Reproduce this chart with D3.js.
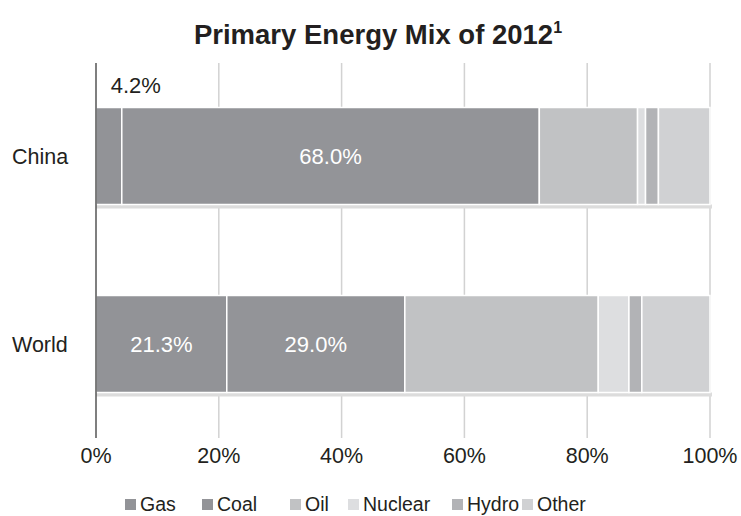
<!DOCTYPE html>
<html>
<head>
<meta charset="utf-8">
<script src="https://cdn.jsdelivr.net/npm/d3@7"></script>
<style>
  body { margin: 0; background: #fff; }
  svg { font-family: "Liberation Sans", Arial, sans-serif; }
</style>
</head>
<body>
<svg id="chart" width="741" height="516"></svg>
<script>
// data (percent of primary energy)
var regions = ["China", "World"];
var sources = ["Gas", "Coal", "Oil", "Nuclear", "Hydro", "Other"];
var chinaShares = [4.2, 68.0, 16.0, 1.3, 2.1, 8.4];
var worldShares = [21.3, 29.0, 31.5, 5.0, 2.1, 11.1];
var xTicks = [0, 20, 40, 60, 80, 100];
var colors = ["#929397", "#939498", "#c1c2c4", "#dddee0", "#b2b3b6", "#d0d1d3"];

var shares = { China: chinaShares, World: worldShares };

var svg = d3.select("#chart");

var x = d3.scaleLinear().domain([0, 100]).range([96, 710]);
var y = d3.scaleBand().domain(regions).range([62, 438])
    .paddingInner(0.484).paddingOuter(0.242);
var color = d3.scaleOrdinal().domain(sources).range(colors);

// title
var title = svg.append("text")
    .attr("x", 378).attr("y", 44)
    .attr("text-anchor", "middle")
    .style("font-size", "27.5px").style("font-weight", "bold").style("fill", "#231f20")
    .text("Primary Energy Mix of 2012");
title.append("tspan")
    .attr("dy", -11).style("font-size", "16px")
    .text("1");

// gridlines
svg.append("g").selectAll("line")
    .data(xTicks.slice(1))
    .enter().append("line")
    .attr("x1", function(d) { return x(d); })
    .attr("x2", function(d) { return x(d); })
    .attr("y1", 63).attr("y2", 438)
    .style("stroke", "#d2d2d2").style("stroke-width", 1.5);

// stacked rows
var rows = svg.append("g").selectAll("g")
    .data(regions)
    .enter().append("g");

rows.append("rect")
    .attr("x", x(0))
    .attr("y", function(d) { return y(d) + y.bandwidth(); })
    .attr("width", x(100) - x(0) + 2)
    .attr("height", 4)
    .style("fill", "#dcdcdc");

rows.each(function(r) {
    var vals = shares[r];
    var acc = 0;
    var segs = vals.map(function(v, i) {
        var s = { region: r, source: sources[i], v: v, x0: acc, x1: acc + v };
        acc += v;
        return s;
    });
    var g = d3.select(this);
    g.selectAll("rect.seg")
        .data(segs)
        .enter().append("rect")
        .attr("class", "seg")
        .attr("x", function(d) { return x(d.x0); })
        .attr("y", y(r))
        .attr("width", function(d) { return x(d.x1) - x(d.x0); })
        .attr("height", y.bandwidth())
        .style("fill", function(d) { return color(d.source); })
        .style("stroke", "#fff").style("stroke-width", 1.5);

    // value labels for gas and coal
    segs.slice(0, 2).forEach(function(d) {
        var inside = d.v > 10;
        g.append("text")
            .attr("x", inside ? (x(d.x0) + x(d.x1)) / 2 : x(d.x1) + 14)
            .attr("y", inside ? y(r) + y.bandwidth() / 2 + 8 : y(r) - 14)
            .attr("text-anchor", "middle")
            .style("font-size", "22px")
            .style("fill", inside ? "#fff" : "#231f20")
            .text(d.v.toFixed(1) + "%");
    });
});

// category labels
svg.append("g").selectAll("text")
    .data(regions)
    .enter().append("text")
    .attr("x", 12)
    .attr("y", function(d) { return y(d) + y.bandwidth() / 2 + 8; })
    .style("font-size", "21.5px").style("fill", "#231f20")
    .text(function(d) { return d; });

// left axis line
svg.append("line")
    .attr("x1", x(0)).attr("x2", x(0))
    .attr("y1", 63).attr("y2", 438)
    .style("stroke", "#555").style("stroke-width", 1.5);

// x tick labels
svg.append("g").selectAll("text")
    .data(xTicks)
    .enter().append("text")
    .attr("x", function(d) { return x(d); })
    .attr("y", 463)
    .attr("text-anchor", "middle")
    .style("font-size", "21.5px").style("fill", "#231f20")
    .text(function(d) { return d + "%"; });

// legend
var legendX = [125, 202, 290, 348, 452, 522];
var leg = svg.append("g").selectAll("g")
    .data(sources)
    .enter().append("g")
    .attr("transform", function(d, i) { return "translate(" + legendX[i] + ",499)"; });

leg.append("rect")
    .attr("width", 11).attr("height", 11)
    .style("fill", function(d) { return color(d); });

leg.append("text")
    .attr("x", 15).attr("y", 12)
    .style("font-size", "19.5px").style("fill", "#231f20")
    .text(function(d) { return d; });
</script>
</body>
</html>
